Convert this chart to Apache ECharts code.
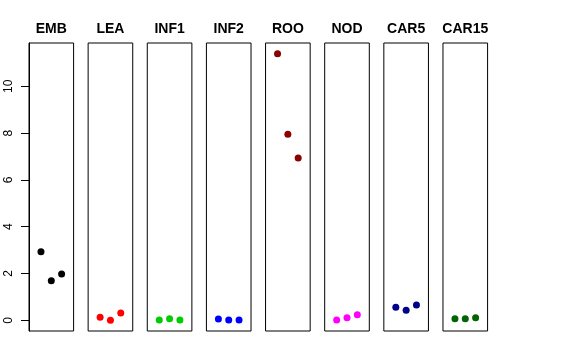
<!DOCTYPE html>
<html>
<head>
<meta charset="utf-8">
<script src="https://cdn.jsdelivr.net/npm/echarts@6/dist/echarts.min.js"></script>
<style>
html,body{margin:0;padding:0;background:#fff;}
#chart{width:576px;height:360px;}
</style>
</head>
<body>
<div id="chart"></div>
<script>
// Panel names
var panels = ["EMB", "LEA", "INF1", "INF2", "ROO", "NOD", "CAR5", "CAR15"];
// x positions of the three points in each panel
var xPos = [1, 2, 3];
// values per panel
var EMB   = [2.93, 1.69, 1.98];
var LEA   = [0.13, 0.00, 0.31];
var INF1  = [0.01, 0.07, 0.01];
var INF2  = [0.06, 0.01, 0.01];
var ROO   = [11.39, 7.95, 6.94];
var NOD   = [0.01, 0.11, 0.24];
var CAR5  = [0.56, 0.43, 0.65];
var CAR15 = [0.07, 0.07, 0.11];
var panelValues = [EMB, LEA, INF1, INF2, ROO, NOD, CAR5, CAR15];
var panelColors = ["#000000", "#FF0000", "#00CD00", "#0000FF", "#8B0000", "#FF00FF", "#00008B", "#006400"];
// y tick labels
var yTicks = [0, 2, 4, 6, 8, 10];

(function () {
  var yMin = -0.456, yMax = 11.85;
  var xMin = -0.16, xMax = 4.16;

  var chart = echarts.init(document.getElementById('chart'), null, {renderer: 'canvas'});
  var grids = [], xAxes = [], yAxes = [], series = [], texts = [];
  var left0 = 29, pitch = 59.14, w = 44.6, gTop = 43, gH = 288;
  panels.forEach(function(name, i) {
    var l = left0 + i * pitch;
    grids.push({left: l, top: gTop, width: w, height: gH, show: true, borderColor: '#000', borderWidth: 1, backgroundColor: 'transparent'});
    xAxes.push({type: 'value', gridIndex: i, min: xMin, max: xMax, show: false});
    yAxes.push({
      type: 'value', gridIndex: i, min: yMin, max: yMax,
      show: i === 0,
      splitLine: {show: false},
      axisLine: {show: i === 0, onZero: false, lineStyle: {color: '#000', width: 1}},
      axisTick: {show: i === 0, length: 8, lineStyle: {color: '#000'}, customValues: yTicks},
      axisLabel: {show: i === 0, rotate: 90, margin: 14, fontSize: 12, color: '#000',
        fontFamily: 'Liberation Sans, Arial, sans-serif', customValues: yTicks}
    });
    texts.push({
      type: 'text', x: l + w / 2, y: 29,
      style: {text: name, textAlign: 'center', textVerticalAlign: 'middle',
        font: 'bold 14px "Liberation Sans", Arial, sans-serif', fill: '#000'}
    });
    series.push({
      type: 'scatter', xAxisIndex: i, yAxisIndex: i, symbol: 'circle', symbolSize: 7,
      itemStyle: {color: panelColors[i], opacity: 1},
      data: xPos.map(function(x, k) { return [x, panelValues[i][k]]; }),
      silent: true
    });
  });

  chart.setOption({
    animation: false,
    backgroundColor: '#fff',
    graphic: texts,
    grid: grids,
    xAxis: xAxes,
    yAxis: yAxes,
    series: series
  });
})();
</script>
</body>
</html>
